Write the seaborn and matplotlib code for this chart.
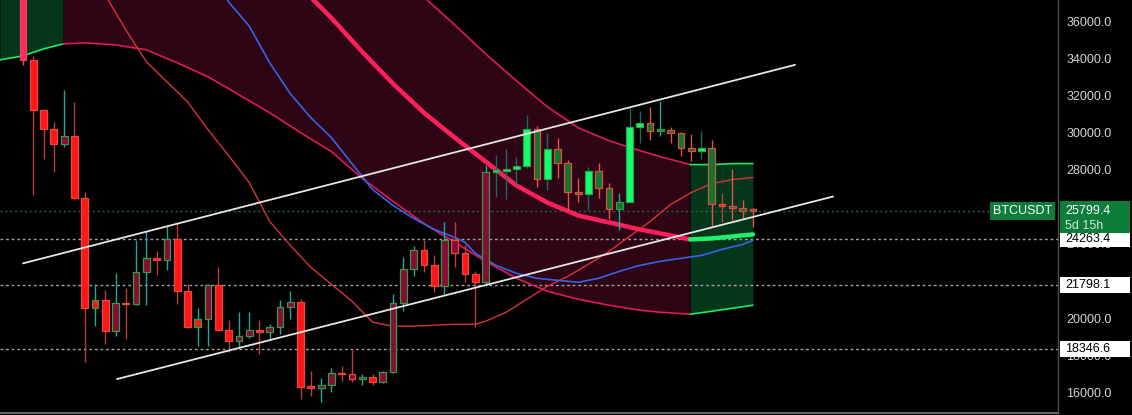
import numpy as np
import pandas as pd
import seaborn as sns
import matplotlib.pyplot as plt
from matplotlib.patches import Rectangle
import matplotlib.transforms as mtransforms

# weekly BTCUSDT candles, oldest first
opens = [38000, 33950, 31256, 30232, 29423, 29854, 26512, 20528, 20959, 19288,
         20798, 20760, 22469, 23224, 23116, 24248, 21445, 19504, 19935, 21768,
         19342, 18749, 19019, 19342, 19234, 19504, 20582, 20852, 16270, 16230,
         16380, 17024, 16970, 16700, 16810, 16540, 17078, 20798, 22631, 23655,
         22846, 21714, 24194, 23493, 22361, 21930, 27914, 27950, 28076, 28238,
         30232, 27536, 29154, 28400, 26836, 26728, 27968, 27051, 25865, 26296,
         30340, 30556, 30124, 30150, 30016, 29208, 29046, 29208, 26135, 26027,
         25919, 25830]
highs = [38500, 34167, 31300, 30610, 32334, 31687, 26836, 21822, 21500, 22415,
         21607, 24194, 24679, 23600, 24949, 25164, 21822, 20528, 21850, 22739,
         19881, 20313, 20313, 19881, 19650, 21000, 21445, 21013, 17132, 16755,
         17294, 17400, 18318, 17000, 17000, 17150, 21283, 23280, 23871, 24194,
         23386, 25164, 25164, 23925, 22523, 28292, 28830, 29154, 28722, 30987,
         30394, 30016, 29747, 28560, 27590, 28184, 28400, 27321, 26782, 31364,
         31202, 31418, 31741, 30340, 30050, 29962, 30124, 29639, 26782, 28076,
         26404, 25919]
lows = [33682, 26674, 28614, 27914, 29262, 26450, 17617, 19558, 18588, 19019,
        18857, 20700, 20690, 22300, 22577, 20744, 19450, 18480, 18480, 19300,
        18156, 18426, 18900, 18049, 18800, 19127, 19935, 15622, 15784, 15460,
        16000, 16600, 16540, 16400, 16400, 16500, 17050, 20367, 22254, 22469,
        21391, 21283, 22739, 21930, 19504, 21768, 26566, 26458, 27213, 28130,
        27105, 26900, 27590, 25757, 26296, 25811, 26512, 25326, 24733, 26243,
        29477, 29639, 29854, 29477, 28776, 28506, 28614, 24949, 25164, 25272,
        25326, 24895]
closes = [33950, 31256, 30232, 29423, 29854, 26512, 20528, 20959, 19288, 20798,
          20760, 22469, 23224, 23116, 24248, 21445, 19504, 19935, 21768, 19342,
          18749, 19019, 19342, 19234, 19504, 20582, 20852, 16270, 16230, 16380,
          17024, 16970, 16700, 16810, 16540, 17078, 20798, 22631, 23655, 22846,
          21714, 24194, 23493, 22361, 21930, 27914, 27950, 28076, 28238, 30232,
          27536, 29154, 28400, 26836, 26728, 27968, 27051, 25865, 26296, 30340,
          30556, 30124, 30150, 30016, 29208, 29046, 29208, 26135, 26027, 25919,
          25757, 25799.4]
# body colour code per candle (indicator colouring)
fills = list("PRRRCRRRRCRCCRCRRRCRRCCRCCCRRCCCCCRCCCCRRCCRRCGGGGDGDDDGDDDGGDDDDDGDRDDD")

# regression channel (lower / upper band) and its centre line
band_idx = [-2.24, 0, 2, 3.9, 6, 9, 12, 15, 18, 21, 24, 27, 30, 33, 36, 39, 42,
            45, 48, 51, 54, 57, 60, 62, 64.9, 67, 69, 71]
band_lower = [33951, 34167, 34544, 34814, 34868, 34760, 34491, 33790, 33035, 32065,
              31094, 30016, 28992, 27536, 26296, 25110, 24086, 23062, 22145, 21444,
              21013, 20690, 20420, 20312, 20204, 20366, 20528, 20690]
band_upper = [52000, 52000, 52000, 52000, 52000, 51500, 51000, 50500, 50000, 49000,
              48000, 46000, 43500, 40420, 38696, 37348, 35838, 34275, 32819, 31418,
              30286, 29585, 29046, 28722, 28292, 28292, 28345, 28345]
mid_idx = [24, 27, 30, 33, 36, 39, 42, 45, 48, 51, 54, 57, 60, 62, 64.9, 67, 69, 71]
band_mid = [39612, 37887, 36216, 34383, 32658, 31094, 29747, 28453, 27159, 26242,
            25541, 25164, 24787, 24571, 24248, 24302, 24410, 24518]

# moving averages
red_idx = [8, 10, 12, 14, 16, 18, 20, 22, 24, 26, 28, 30, 32, 34, 36, 38, 40, 42,
           44, 45, 47, 49, 51, 53, 55, 57, 59, 61, 63, 65, 67, 69, 71]
red_ma = [37456, 35569, 33844, 32766, 31687, 30178, 28776, 27321, 25218, 23924,
          22738, 21822, 20905, 19773, 19558, 19558, 19612, 19665, 19665, 19827,
          20312, 21013, 21714, 22253, 22900, 23601, 24410, 25218, 26135, 26782,
          27267, 27482, 27590]
blue_idx = [19, 20, 22, 24, 26, 28, 30, 32, 34, 36, 38, 40, 42, 43, 44, 46, 48, 50,
            52, 54, 56, 58, 60, 62, 64, 66, 68, 70, 71]
blue_ma = [38264, 37078, 35784, 33790, 32119, 30825, 29747, 28345, 26943, 26081,
           25380, 24787, 24356, 24086, 23493, 22846, 22415, 22145, 22037, 21930,
           22145, 22523, 22846, 23062, 23224, 23385, 23709, 23978, 24194]

# hand drawn channel lines
trend_upper_x = [0, 75.1]
trend_upper_y = [22954, 33682]
trend_lower_x = [9.14, 78.8]
trend_lower_y = [16701, 26566]

last_price = 25799.4
time_left = "5d 15h"
levels = [24263.4, 21798.1, 18346.6]
yticks = list(range(16000, 36001, 2000))

sns.set_theme(style="dark")
plt.rcParams['font.family'] = ['Liberation Sans', 'DejaVu Sans']

fig = plt.figure(figsize=(11.32, 4.15), dpi=100, facecolor='black')
ax = fig.add_axes([0, 2 / 415, 1058 / 1132, 413 / 415])
ax.set_facecolor('black')

ax.set_xlim(-2.24, 100.68)
ax.set_ylim(14867, 37186)

maroon = '#2e0514'
dkgreen = '#04361b'
pink = '#dc1a5c'
hot = '#ff1f5f'
lime = '#1ee865'

# channel fill: green / maroon / green
ax.fill_between(band_idx[:4], band_lower[:4], band_upper[:4], color=dkgreen, lw=0, zorder=1)
ax.fill_between(band_idx[3:25], band_lower[3:25], band_upper[3:25], color=maroon, lw=0, zorder=1)
ax.fill_between(band_idx[24:], band_lower[24:], band_upper[24:], color=dkgreen, lw=0, zorder=1)

sns.lineplot(x=band_idx[:4], y=band_lower[:4], ax=ax, color=lime, lw=1.2, sort=False, zorder=2)
sns.lineplot(x=band_idx[3:25], y=band_lower[3:25], ax=ax, color=pink, lw=1.2, sort=False, zorder=2)
sns.lineplot(x=band_idx[24:], y=band_lower[24:], ax=ax, color=lime, lw=1.2, sort=False, zorder=2)
sns.lineplot(x=band_idx[:25], y=band_upper[:25], ax=ax, color=pink, lw=1.2, sort=False, zorder=2)
sns.lineplot(x=band_idx[24:], y=band_upper[24:], ax=ax, color=lime, lw=1.2, sort=False, zorder=2)
sns.lineplot(x=mid_idx[:15], y=band_mid[:15], ax=ax, color=hot, lw=3.2, sort=False, zorder=2)
sns.lineplot(x=mid_idx[14:], y=band_mid[14:], ax=ax, color='#22f06c', lw=3.2, sort=False, zorder=2)

sns.lineplot(x=red_idx, y=red_ma, ax=ax, color='#d8323c', lw=1.0, sort=False, zorder=3)
sns.lineplot(x=blue_idx, y=blue_ma, ax=ax, color='#3a62e6', lw=1.2, sort=False, zorder=3)

# price level lines
ax.axhline(last_price, xmin=0, xmax=990 / 1058, color='#1d6e3c', lw=1, ls=(0, (1.5, 2)), zorder=1.5)
for lv in levels:
    ax.axhline(lv, color='#a0a0a0', lw=1, ls=(0, (2, 2)), zorder=1.5)

# candles
fill_col = {'P': '#ff2a6a', 'R': '#ff1616', 'C': '#8c0a35', 'G': '#14ff6c', 'D': '#0a7a30'}
idx = np.arange(len(opens))
for i in idx:
    o, h, l, c = opens[i], highs[i], lows[i], closes[i]
    up = c >= o
    if up:
        wick = '#1b6a62' if fills[i] == 'G' else '#1fa89c'
        edge = '#2f9e48'
    else:
        wick = '#b8403a' if fills[i] in 'RC' else '#e0554c'
        edge = '#e8483f'
    ax.vlines(i, l, h, color=wick, lw=1.0, zorder=4)
    body = max(abs(c - o), 70)
    ax.bar(i, body, bottom=min(o, c), width=0.66, color=fill_col[fills[i]],
           edgecolor=edge, linewidth=0.9, zorder=5)

# drawn trend lines
sns.lineplot(x=trend_upper_x, y=trend_upper_y, ax=ax, color='#e6e6e6', lw=1.3, sort=False, zorder=6)
sns.lineplot(x=trend_lower_x, y=trend_lower_y, ax=ax, color='#e6e6e6', lw=1.3, sort=False, zorder=6)

# right price scale
ax.set_xticks([])
ax.yaxis.tick_right()
ax.set_yticks(yticks)
ax.set_yticklabels([f"{t:.1f}" for t in yticks])
ax.tick_params(axis='y', length=0, pad=6, labelcolor='#d6d6d6', labelsize=9)
ax.set_xlabel('')
ax.set_ylabel('')
ax.grid(False)
for s in ['top', 'left']:
    ax.spines[s].set_visible(False)
ax.spines['right'].set_color('#4d4d4d')
ax.spines['bottom'].set_color('#7a7a7a')
ax.spines['right'].set_linewidth(1)
ax.spines['bottom'].set_linewidth(1.2)

trans = mtransforms.blended_transform_factory(ax.transAxes, ax.transData)
px = 1 / 1058.0
ppx = (37186 - 14867) / 413.0
bx0 = 1060 * px
bw = 70 * px

for lv in levels:
    ax.add_patch(Rectangle((bx0, lv - 8 * ppx), bw, 16 * ppx, transform=trans,
                           facecolor='white', edgecolor='none', clip_on=False, zorder=10))
    ax.text(1065 * px, lv, f"{lv:.1f}", transform=trans, ha='left', va='center',
            color='black', fontsize=9, zorder=11, clip_on=False)

green = '#0e7d3c'
ax.add_patch(Rectangle((bx0, last_price - 22 * ppx), bw, 32 * ppx, transform=trans,
                       facecolor=green, edgecolor='none', clip_on=False, zorder=10))
ax.text(1065 * px, last_price, f"{last_price:.1f}", transform=trans, ha='left', va='center',
        color='white', fontsize=9, zorder=11, clip_on=False)
ax.text(1065 * px, last_price - 15 * ppx, time_left, transform=trans, ha='left', va='center',
        color='#cfe8d6', fontsize=9, zorder=11, clip_on=False)

ax.add_patch(Rectangle((990 * px, last_price - 9 * ppx), 65 * px, 18 * ppx, transform=trans,
                       facecolor=green, edgecolor='none', clip_on=False, zorder=10))
ax.text(1022.5 * px, last_price, "BTCUSDT", transform=trans, ha='center', va='center',
        color='white', fontsize=9, zorder=11, clip_on=False)

fig.savefig('out.png', dpi=100, facecolor='black')
